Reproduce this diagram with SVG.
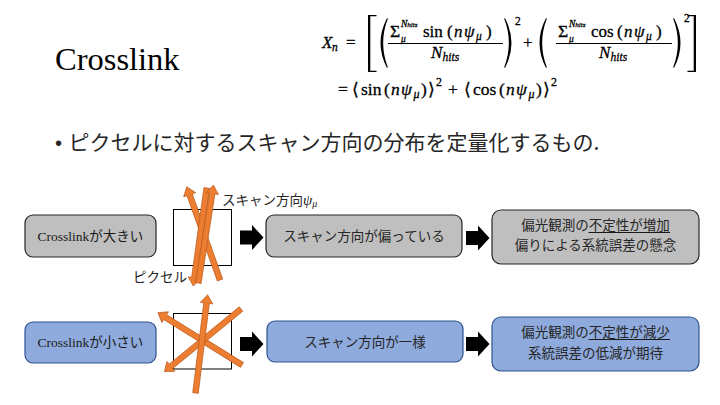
<svg xmlns="http://www.w3.org/2000/svg" xmlns:xlink="http://www.w3.org/1999/xlink" width="720" height="405" viewBox="0 0 720 405">
<style>
.bg{fill:#FFFFFF}
.box-gray{fill:#BFBFBF;stroke:#262626;stroke-width:1.2}
.box-blue{fill:#8FAADC;stroke:#2F528F;stroke-width:1.2}
.pix{fill:#FFFFFF;stroke:#000000;stroke-width:1}
.jp{font-family:"Noto Sans CJK JP",sans-serif;fill:#262626}
.mix{font-family:"Liberation Serif","Noto Sans CJK JP",serif;fill:#1a1a1a;font-size:13.5px}
.lbl{font-family:"Noto Sans CJK JP",sans-serif;fill:#262626;font-size:13.5px}
#formula text{font-family:"Liberation Serif","DejaVu Serif",serif;fill:#000000;stroke:#000000;stroke-width:0.3}
.mfill{fill:#000000}
.it{font-style:italic}
.orange{fill:#ED7D31;stroke:#B85B1E;stroke-width:0.7}
.blk{fill:#000000}
.ul{stroke:#1a1a1a;stroke-width:1}
.bar{stroke:#000000;stroke-width:1}
</style>
<defs>
<path id="oarrow" class="orange" d="M0,-2.8 H90.5 V-6.3 L99,0 L90.5,6.3 V2.8 H0 Z"/>
<path id="barrow" class="blk" d="M0,-7 H12 V-12.5 L23.5,0 L12,12.5 V7 H0 Z"/>
<path id="lparen" class="mfill" d="M7,0 Q-6,25 7,50 L7.8,49.2 Q-1.5,25 7.8,0.8 Z"/>
<path id="lbrack" class="mfill" d="M0,0 H8.5 V1.3 H2.3 V55.7 H8.5 V57 H0 Z"/>
</defs>
<rect class="bg" x="0" y="0" width="720" height="405"/>

<text x="55" y="70" font-family="Liberation Serif, serif" font-size="32.5" fill="#000">Crosslink</text>

<g id="formula">
  <text x="322" y="48" class="it" font-size="17">X</text>
  <text x="332" y="51" class="it" font-size="11.5">n</text>
  <text x="346" y="48" font-size="17">=</text>
  <use xlink:href="#lbrack" transform="translate(368,15)"/>
  <use xlink:href="#lparen" transform="translate(380,18)"/>
  <text x="390" y="37" font-size="17.5">Σ</text>
  <text x="401" y="27" class="it" font-size="9.5">N<tspan font-size="7">hits</tspan></text>
  <text x="401" y="42" class="it" font-size="9.5">μ</text>
  <text x="423" y="37" font-size="17">sin</text>
  <text x="447" y="37" font-size="17">(</text>
  <text x="454" y="37" class="it" font-size="17">n</text>
  <text x="464" y="37" class="it" font-size="17">ψ</text>
  <text x="476" y="40" class="it" font-size="11.5">μ</text>
  <text x="486" y="37" font-size="17">)</text>
  <line class="bar" x1="388" y1="43.5" x2="503" y2="43.5"/>
  <text x="431" y="58" class="it" font-size="17">N</text>
  <text x="442.5" y="61" class="it" font-size="11.5">hits</text>
  <use xlink:href="#lparen" transform="translate(512,18) scale(-1,1)"/>
  <text x="515" y="25" font-size="11.5">2</text>
  <text x="523" y="48" font-size="17">+</text>
  <use xlink:href="#lparen" transform="translate(539,18)"/>
  <text x="558" y="37" font-size="17.5">Σ</text>
  <text x="569" y="27" class="it" font-size="9.5">N<tspan font-size="7">hits</tspan></text>
  <text x="569" y="42" class="it" font-size="9.5">μ</text>
  <text x="591" y="37" font-size="17">cos</text>
  <text x="617" y="37" font-size="17">(</text>
  <text x="624" y="37" class="it" font-size="17">n</text>
  <text x="634" y="37" class="it" font-size="17">ψ</text>
  <text x="646" y="40" class="it" font-size="11.5">μ</text>
  <text x="656" y="37" font-size="17">)</text>
  <line class="bar" x1="556" y1="43.5" x2="672" y2="43.5"/>
  <text x="599" y="58" class="it" font-size="17">N</text>
  <text x="610.5" y="61" class="it" font-size="11.5">hits</text>
  <use xlink:href="#lparen" transform="translate(681,18) scale(-1,1)"/>
  <text x="684" y="22" font-size="11.5">2</text>
  <use xlink:href="#lbrack" transform="translate(696,15) scale(-1,1)"/>

  <text x="338" y="95" font-size="17.5">=</text>
  <text x="352" y="95" font-size="17.5">⟨</text>
  <text x="361" y="95" font-size="17.5">sin</text>
  <text x="384" y="95" font-size="17.5">(</text>
  <text x="391" y="95" class="it" font-size="17.5">n</text>
  <text x="401" y="95" class="it" font-size="17.5">ψ</text>
  <text x="413.5" y="98" class="it" font-size="12">μ</text>
  <text x="421" y="95" font-size="17.5">)</text>
  <text x="428" y="95" font-size="17.5">⟩</text>
  <text x="436" y="86" font-size="12">2</text>
  <text x="448" y="95" font-size="17.5">+</text>
  <text x="464" y="95" font-size="17.5">⟨</text>
  <text x="473" y="95" font-size="17.5">cos</text>
  <text x="499" y="95" font-size="17.5">(</text>
  <text x="506" y="95" class="it" font-size="17.5">n</text>
  <text x="516" y="95" class="it" font-size="17.5">ψ</text>
  <text x="528.5" y="98" class="it" font-size="12">μ</text>
  <text x="536" y="95" font-size="17.5">)</text>
  <text x="543" y="95" font-size="17.5">⟩</text>
  <text x="551" y="86" font-size="12">2</text>
</g>

<g id="bullet">
  <text x="55" y="150" font-family="Liberation Sans, sans-serif" font-size="20" fill="#262626">•</text>
  <text x="68.5" y="150" class="jp" font-size="21">ピクセルに対するスキャン方向の分布を定量化するもの.</text>
</g>

<g id="n-large">
  <rect class="box-gray" x="25" y="215" width="131" height="42" rx="8"/>
  <text class="mix" x="90.5" y="241" text-anchor="middle">Crosslinkが大きい</text>
</g>

<g id="n-pixel-biased">
  <rect class="pix" x="173.5" y="209.5" width="58" height="56"/>
  <use xlink:href="#oarrow" transform="translate(220,280) rotate(-109.6)"/>
  <use xlink:href="#oarrow" transform="translate(206.7,188) rotate(97.8)"/>
  <use xlink:href="#oarrow" transform="translate(198.3,283) rotate(-81.2)"/>
  <text class="lbl" x="222" y="205">スキャン方向<tspan font-family="Liberation Serif, serif" font-style="italic" font-size="15">ψ</tspan><tspan font-family="Liberation Serif, serif" font-style="italic" font-size="10" dy="2">μ</tspan></text>
  <text class="lbl" x="133" y="282" font-size="13">ピクセル</text>
</g>

<g id="n-biased">
  <rect class="box-gray" x="266" y="215" width="196" height="42" rx="8"/>
  <text class="lbl" x="364" y="241" text-anchor="middle">スキャン方向が偏っている</text>
</g>

<g id="n-result-biased">
  <rect class="box-gray" x="492" y="210" width="207" height="54" rx="9"/>
  <text class="lbl" x="595.5" y="230" text-anchor="middle">偏光観測の不定性が増加</text>
  <line class="ul" x1="588.5" y1="232.5" x2="670" y2="232.5"/>
  <text class="lbl" x="595.5" y="250" text-anchor="middle">偏りによる系統誤差の懸念</text>
</g>

<g id="n-small">
  <rect class="box-blue" x="25" y="322" width="131" height="41" rx="8"/>
  <text class="mix" x="90.5" y="347" text-anchor="middle">Crosslinkが小さい</text>
</g>

<g id="n-pixel-uniform">
  <rect class="pix" x="173.5" y="313.5" width="58" height="55.5"/>
  <use xlink:href="#oarrow" transform="translate(242,365) rotate(-148.1)"/>
  <use xlink:href="#oarrow" transform="translate(241,309) rotate(140.7)"/>
  <use xlink:href="#oarrow" transform="translate(195.5,393) rotate(-83)"/>
</g>

<g id="n-uniform">
  <rect class="box-blue" x="267" y="321" width="196" height="41" rx="8"/>
  <text class="lbl" x="365" y="347" text-anchor="middle">スキャン方向が一様</text>
</g>

<g id="n-result-uniform">
  <rect class="box-blue" x="492" y="317" width="207" height="54" rx="9"/>
  <text class="lbl" x="595.5" y="337" text-anchor="middle">偏光観測の不定性が減少</text>
  <line class="ul" x1="588.5" y1="339.5" x2="670" y2="339.5"/>
  <text class="lbl" x="595.5" y="358" text-anchor="middle">系統誤差の低減が期待</text>
</g>

<g id="connectors">
  <use xlink:href="#barrow" transform="translate(240,237.5)"/>
  <use xlink:href="#barrow" transform="translate(466,238)"/>
  <use xlink:href="#barrow" transform="translate(240,344)"/>
  <use xlink:href="#barrow" transform="translate(466,344)"/>
</g>
</svg>
